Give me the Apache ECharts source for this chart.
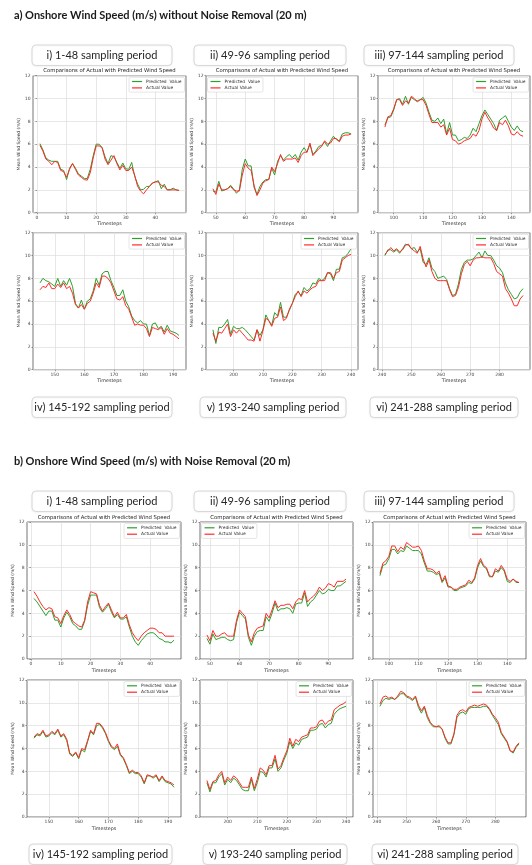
<!DOCTYPE html>
<html>
<head>
<meta charset="utf-8">
<script src="https://cdn.jsdelivr.net/npm/echarts@6/dist/echarts.min.js"></script>
<style>
  html, body { margin: 0; padding: 0; background: #ffffff; }
  #chart { width: 532px; height: 865px; }
</style>
</head>
<body>
<div id="chart"></div>
<script>
// Series names shown in every legend
const seriesNames = ['Predicted  Value', 'Actual Value'];

// First timestep of each 48-step sampling period
const periodStarts = [1, 49, 97, 145, 193, 241];
const periodLabels = [
  'i) 1-48 sampling period', 'ii) 49-96 sampling period', 'iii) 97-144 sampling period',
  'iv) 145-192 sampling period', 'v) 193-240 sampling period', 'vi) 241-288 sampling period'
];

// Tick labels
const xTicks = [
  [0, 10, 20, 30, 40], [50, 60, 70, 80, 90], [100, 110, 120, 130, 140],
  [150, 160, 170, 180, 190], [200, 210, 220, 230, 240], [240, 250, 260, 270, 280]
];
const yTicks = [0, 2, 4, 6, 8, 10, 12];

const sectionTitles = [
  'a) Onshore Wind Speed (m/s) without Noise Removal (20 m)',
  'b) Onshore Wind Speed (m/s) with Noise Removal (20 m)'
];

// a) without noise removal (m/s)
const a1Predicted = [6.05,5.5,4.8,4.6,4.5,4.5,4.5,3.8,3.7,2.9,3.9,4.3,3.9,3.4,3.2,3.0,3.0,3.8,5.0,6.0,6.0,5.7,4.9,4.3,5.0,4.9,4.4,3.9,4.35,3.85,3.8,4.4,3.2,2.5,2.0,2.05,2.3,2.3,2.6,2.7,2.8,2.1,2.5,2.0,2.0,2.15,2.0,1.95];
const a1Actual    = [5.9,5.4,4.7,4.5,4.2,4.5,4.4,3.7,3.6,3.1,3.8,4.3,3.8,3.3,3.1,2.9,2.85,3.5,4.8,5.85,5.85,5.7,4.7,4.2,4.6,5.0,4.3,3.75,4.15,3.7,3.7,4.0,3.3,2.3,1.9,1.65,2.0,2.3,2.6,2.7,2.7,2.4,2.3,2.0,2.0,2.0,2.0,1.95];
const a2Predicted = [1.9,1.8,2.75,1.9,2.0,2.1,2.4,2.1,1.7,2.0,3.8,4.7,4.1,4.1,2.2,1.6,2.3,2.7,2.9,2.9,3.9,3.3,4.5,5.0,4.6,4.9,5.1,4.8,5.1,4.6,5.3,5.7,5.3,6.0,5.1,5.4,5.8,5.9,6.2,5.8,6.3,6.7,6.4,6.3,6.9,7.0,7.0,6.9];
const a2Actual    = [2.1,1.6,2.5,2.0,2.0,2.1,2.3,2.0,1.9,1.9,3.3,4.3,3.9,3.7,2.4,1.5,2.0,2.6,2.8,2.9,4.0,3.6,4.3,5.1,4.5,4.7,4.7,4.7,4.8,4.4,5.0,5.3,5.3,6.1,5.0,5.3,5.6,5.8,6.3,6.0,6.1,6.5,6.5,6.2,6.7,6.8,6.8,6.9];
const a3Predicted = [7.7,8.3,8.4,9.0,9.9,10.0,9.5,10.2,9.5,10.1,9.9,9.8,9.9,10.1,9.6,8.8,8.1,8.0,8.3,7.8,8.2,6.9,7.9,6.8,6.8,6.3,6.4,6.6,6.5,6.8,7.4,7.1,7.8,8.5,9.0,8.6,8.2,7.8,7.2,8.1,8.3,8.5,8.0,7.5,7.2,7.6,7.2,7.1];
const a3Actual    = [7.5,8.4,8.5,9.1,9.9,9.9,9.4,9.8,9.6,10.2,10.0,9.7,9.9,9.9,9.4,8.6,7.9,7.9,7.9,7.5,7.7,6.8,7.4,6.4,6.3,6.0,6.1,6.3,6.4,6.5,6.9,6.7,7.2,8.2,8.8,8.3,7.9,7.4,7.2,7.9,7.7,8.1,7.6,6.9,6.8,7.1,6.8,6.7];
const a4Predicted = [7.6,8.0,7.8,7.7,7.5,7.3,8.0,7.3,7.8,7.4,8.0,7.3,5.8,5.4,6.1,5.3,6.0,6.2,6.9,8.0,7.4,8.4,8.6,8.6,7.8,7.2,6.5,6.5,7.0,6.0,5.5,4.7,4.3,4.1,4.3,4.0,4.0,3.0,4.0,4.1,3.6,3.8,3.3,3.9,3.4,3.3,3.2,3.0];
const a4Actual    = [7.0,7.3,7.2,7.6,7.1,7.1,7.5,7.2,7.6,7.1,7.3,6.7,5.7,5.4,5.7,5.3,5.8,6.0,6.7,7.6,7.2,8.2,8.2,8.0,7.6,6.9,6.2,6.1,6.4,5.6,5.3,4.6,3.9,4.0,3.9,3.9,3.6,2.9,3.7,3.6,3.5,3.7,3.1,3.6,3.2,3.1,2.9,2.7];
const a5Predicted = [3.5,2.3,3.7,3.7,4.0,4.4,3.1,3.8,3.6,3.6,3.7,3.5,3.2,2.9,2.6,3.5,3.0,3.5,4.8,4.3,3.9,5.0,4.7,5.9,4.6,4.6,5.2,5.8,6.6,6.8,6.5,7.2,6.9,7.1,7.6,7.5,8.0,7.8,8.0,8.5,8.4,7.8,8.8,8.8,9.8,9.9,10.2,10.6];
const a5Actual    = [3.2,2.5,3.3,3.2,3.6,4.0,2.9,3.5,3.2,3.5,3.2,2.9,2.6,2.6,2.5,3.5,2.5,3.4,4.5,4.3,3.8,4.5,4.6,5.5,4.3,4.5,5.3,5.8,6.4,6.9,6.4,6.9,6.7,7.0,7.2,7.3,7.8,7.8,7.8,8.5,8.5,8.0,8.5,8.6,9.6,9.8,10.0,10.1];
const a6Predicted = [10.0,10.5,10.5,10.3,10.5,10.2,10.6,11.0,10.9,10.6,10.7,10.3,10.6,9.4,9.2,9.8,8.9,8.6,8.0,8.1,8.2,7.9,7.1,6.5,6.6,7.5,8.8,9.4,9.6,9.6,9.7,10.0,10.3,9.8,10.4,10.0,10.0,9.6,9.1,8.9,8.5,7.6,7.0,6.6,6.2,6.3,6.8,7.1];
const a6Actual    = [10.1,10.4,10.7,10.4,10.6,10.3,10.5,10.9,11.0,10.6,10.4,10.2,10.8,9.7,9.0,9.6,8.6,8.0,7.8,7.8,7.8,7.8,7.0,6.4,6.5,7.2,8.4,9.2,9.5,9.1,9.6,9.8,9.8,9.9,9.8,9.8,9.8,9.3,8.6,8.4,8.2,7.1,6.7,6.2,5.6,5.6,6.2,6.5];

// b) with noise removal (m/s)
const b1Predicted = [5.3,5.0,4.6,4.2,3.8,4.2,4.2,3.4,3.4,2.8,3.6,4.1,3.7,3.1,2.9,2.6,2.6,3.3,4.7,5.6,5.6,5.6,4.5,4.1,4.4,4.8,4.1,3.6,3.9,3.5,3.5,3.7,2.8,2.0,1.5,1.2,1.6,1.9,2.2,2.3,2.3,2.1,1.8,1.7,1.5,1.5,1.4,1.65];
const b1Actual    = [5.9,5.5,5.0,4.6,4.3,4.5,4.4,3.7,3.6,3.1,3.8,4.3,3.9,3.3,3.1,2.9,2.8,3.4,5.0,5.9,5.8,5.7,4.7,4.2,4.6,4.9,4.3,3.7,4.1,3.6,3.6,3.9,3.0,2.3,1.9,1.6,2.0,2.3,2.5,2.7,2.7,2.6,2.3,2.3,2.0,2.0,2.0,2.0];
const b2Predicted = [1.8,1.3,2.2,1.7,1.8,1.9,1.9,1.7,1.6,1.7,3.2,4.1,3.8,3.5,1.9,1.2,2.0,2.4,2.5,2.5,3.7,3.3,4.0,4.9,4.2,4.4,4.4,4.5,4.4,4.0,4.8,4.9,4.9,5.8,4.6,5.0,5.2,5.6,6.0,5.7,5.8,6.1,6.0,6.0,6.4,6.4,6.6,6.8];
const b2Actual    = [2.1,1.6,2.5,2.0,2.0,2.2,2.3,2.0,2.0,2.0,3.4,4.3,4.0,3.7,2.1,1.5,2.3,2.7,2.8,2.9,4.0,3.6,4.3,5.1,4.5,4.7,4.7,4.8,4.8,4.4,5.0,5.3,5.2,6.0,5.0,5.3,5.5,5.8,6.3,6.0,6.2,6.6,6.5,6.3,6.8,6.8,6.8,7.0];
const b3Predicted = [7.3,8.2,8.3,8.8,9.6,9.6,9.2,9.5,9.4,9.9,9.7,9.5,9.5,9.5,9.2,8.4,7.7,7.7,7.6,7.4,7.5,6.7,7.1,6.3,6.3,6.0,6.0,6.2,6.3,6.4,6.7,6.6,7.0,8.0,8.6,8.1,7.9,7.2,7.2,7.7,7.6,8.0,7.7,6.8,6.7,7.0,6.7,6.7];
const b3Actual    = [7.5,8.4,8.6,9.0,9.9,9.9,9.4,9.8,9.6,10.2,10.0,9.8,9.8,9.9,9.5,8.6,7.9,7.9,7.8,7.5,7.7,6.8,7.3,6.4,6.3,6.1,6.1,6.3,6.4,6.5,6.9,6.7,7.1,8.2,8.8,8.2,8.0,7.3,7.2,7.9,7.7,8.2,7.8,7.0,6.8,7.0,6.8,6.7];
const b4Predicted = [6.9,7.2,7.1,7.5,7.0,7.1,7.4,7.2,7.6,7.0,7.2,6.7,5.5,5.3,5.6,5.1,5.9,5.7,6.6,7.5,7.2,8.0,8.1,7.8,7.3,6.6,6.1,5.9,6.2,5.4,5.1,4.5,3.8,4.0,3.8,3.8,3.5,2.9,3.6,3.6,3.4,3.6,3.1,3.5,3.1,3.0,2.9,2.6];
const b4Actual    = [7.0,7.3,7.2,7.6,7.1,7.2,7.5,7.3,7.7,7.1,7.3,6.8,5.6,5.4,5.7,5.2,6.0,5.9,6.7,7.6,7.3,8.2,8.2,7.9,7.4,6.7,6.2,6.0,6.4,5.5,5.2,4.6,3.9,4.1,3.9,3.9,3.6,3.0,3.7,3.6,3.5,3.7,3.2,3.6,3.2,3.1,3.0,2.8];
const b5Predicted = [3.0,2.2,3.0,3.0,3.5,3.8,2.8,3.3,3.0,3.4,3.2,2.8,2.4,2.3,2.3,3.3,2.3,3.0,4.0,3.9,3.5,4.3,4.3,5.1,4.0,4.3,5.0,5.6,6.6,6.0,6.5,6.3,6.8,6.9,7.0,7.6,7.6,7.7,8.1,8.2,7.8,8.1,8.2,9.0,9.3,9.5,9.6,9.7];
const b5Actual    = [3.2,2.4,3.1,3.2,3.7,4.0,3.0,3.5,3.2,3.6,3.4,3.0,2.6,2.6,2.6,3.5,2.5,3.3,4.3,4.1,3.7,4.5,4.5,5.4,4.2,4.5,5.2,5.8,6.9,6.2,6.8,6.6,7.0,7.1,7.2,7.8,7.8,7.9,8.4,8.5,8.1,8.4,8.5,9.4,9.6,9.8,9.9,10.1];
const b6Predicted = [9.7,10.2,10.4,10.3,10.4,10.3,10.5,10.8,10.8,10.5,10.4,10.2,10.5,9.6,9.1,9.6,8.7,8.2,7.9,7.9,7.9,7.7,6.9,6.4,6.4,7.2,8.7,9.1,9.2,9.0,9.5,9.6,9.6,9.6,9.6,9.7,9.7,9.4,8.9,8.5,8.1,7.3,6.9,6.5,5.8,5.6,6.1,6.4];
const b6Actual    = [9.9,10.5,10.6,10.4,10.5,10.3,10.6,11.0,10.9,10.6,10.5,10.3,10.6,9.8,9.3,9.7,8.9,8.3,8.0,7.9,8.0,7.7,7.0,6.5,6.5,7.3,8.9,9.3,9.4,9.2,9.6,9.7,9.8,9.7,9.8,9.9,9.8,9.5,9.0,8.7,8.3,7.4,7.0,6.6,5.8,5.7,6.2,6.5];

// ---------------------------------------------------------------------------
// Layout of the two sections (pixels)
const layout = [
  {
    titleY: 15,
    predicted: [a1Predicted, a2Predicted, a3Predicted, a4Predicted, a5Predicted, a6Predicted],
    actual:    [a1Actual, a2Actual, a3Actual, a4Actual, a5Actual, a6Actual],
    lefts: [33, 206, 378], rights: [186, 358, 530],
    rowTops: [75.7, 232.7], plotH: 137,
    boxes: [
      { y: 45,  xs: [[32, 172], [194, 346], [364, 514]] },
      { y: 397, xs: [[32, 172], [200, 346], [370, 518]] }
    ]
  },
  {
    titleY: 461,
    predicted: [b1Predicted, b2Predicted, b3Predicted, b4Predicted, b5Predicted, b6Predicted],
    actual:    [b1Actual, b2Actual, b3Actual, b4Actual, b5Actual, b6Actual],
    lefts: [27, 200, 373], rights: [181, 353, 526],
    rowTops: [522, 680], plotH: 137,
    boxes: [
      { y: 491, xs: [[32, 172], [194, 346], [364, 514]] },
      { y: 844, xs: [[29, 172], [203, 347], [372, 518]] }
    ]
  }
];

const GREEN = '#2ca02c';
const RED = '#ff2a2a';
const MPL_FONT = 'DejaVu Sans';
const DOC_FONT = 'Lato';

const grids = [], xAxes = [], yAxes = [], series = [], legends = [], graphics = [];

layout.forEach((sec, s) => {
  graphics.push({
    type: 'text', x: 14, y: sec.titleY,
    style: { text: sectionTitles[s], font: 'bold 11px ' + DOC_FONT, fill: '#1a1a1a',
             textAlign: 'left', textVerticalAlign: 'middle' }
  });

  for (let k = 0; k < 6; k++) {
    const row = Math.floor(k / 3), col = k % 3;
    const g = grids.length;
    const left = sec.lefts[col], right = sec.rights[col];
    const top = sec.rowTops[row];
    const start = periodStarts[k];
    const xMin = start - 2.35, xMax = start + 47 + 2.35;

    grids.push({ left: left, top: top, width: right - left, height: sec.plotH,
                 show: true, borderColor: '#3a3a3a', borderWidth: 0.7, backgroundColor: '#fff' });

    xAxes.push({
      type: 'value', gridIndex: g, min: xMin, max: xMax,
      name: 'Timesteps', nameLocation: 'middle', nameGap: 9,
      nameTextStyle: { fontSize: 4.8, fontFamily: MPL_FONT, color: '#333' },
      axisLine: { show: false },
      axisTick: { show: true, customValues: xTicks[k], length: 1.6, lineStyle: { color: '#444', width: 0.5 } },
      axisLabel: { customValues: xTicks[k], fontSize: 4.5, fontFamily: MPL_FONT, color: '#444', margin: 2.5 },
      splitLine: { show: true, lineStyle: { color: '#dcdcdc', width: 0.7 } }
    });

    yAxes.push({
      type: 'value', gridIndex: g, min: yTicks[0], max: yTicks[yTicks.length - 1], interval: 2,
      name: 'Mean Wind Speed (m/s)', nameLocation: 'middle', nameGap: 11, nameRotate: 90,
      nameTextStyle: { fontSize: 4.4, fontFamily: MPL_FONT, color: '#333' },
      axisLine: { show: false },
      axisTick: { show: true, length: 1.6, lineStyle: { color: '#444', width: 0.5 } },
      axisLabel: { fontSize: 4.5, fontFamily: MPL_FONT, color: '#444', margin: 2.5 },
      splitLine: { show: true, lineStyle: { color: '#dcdcdc', width: 0.7 } }
    });

    const pred = sec.predicted[k].map((v, i) => [start + i, v]);
    const act = sec.actual[k].map((v, i) => [start + i, v]);
    series.push({
      name: seriesNames[0], type: 'line', xAxisIndex: g, yAxisIndex: g, data: pred,
      showSymbol: false, symbol: 'none', animation: false,
      lineStyle: { color: GREEN, width: 1 }, itemStyle: { color: GREEN }
    });
    series.push({
      name: seriesNames[1], type: 'line', xAxisIndex: g, yAxisIndex: g, data: act,
      showSymbol: false, symbol: 'none', animation: false,
      lineStyle: { color: RED, width: 1 }, itemStyle: { color: RED }
    });

    // Legend: upper-left for the second panel of the top row, upper-right elsewhere
    const lg = {
      orient: 'vertical', top: top + 1.6, data: seriesNames, selectedMode: false,
      icon: 'rect', itemWidth: 10, itemHeight: 1.2, itemGap: 2.4,
      padding: [2.2, 3, 2.2, 3],
      backgroundColor: 'rgba(255,255,255,0.9)', borderColor: '#d4d4d4', borderWidth: 0.6, borderRadius: 1.5,
      textStyle: { fontSize: 4.4, fontFamily: MPL_FONT, color: '#333', padding: [0, 0, 0, -1] }
    };
    if (k === 1) lg.left = left + 1.5; else lg.right = 532 - right + 1.5;
    legends.push(lg);

    // Chart title above the top row of each section
    if (row === 0) {
      graphics.push({
        type: 'text', x: (left + right) / 2, y: top - 4.6,
        style: { text: 'Comparisons of Actual with Predicted Wind Speed', font: '5.3px ' + MPL_FONT,
                 fill: '#222', textAlign: 'center', textVerticalAlign: 'middle' }
      });
    }
  }

  // Sampling-period caption boxes
  sec.boxes.forEach((b, r) => {
    b.xs.forEach((xr, c) => {
      const w = xr[1] - xr[0];
      graphics.push({
        type: 'rect', shape: { x: xr[0], y: b.y, width: w, height: 20.5, r: 4 },
        style: { fill: '#ffffff', stroke: '#d6d6d6', lineWidth: 0.9,
                 shadowBlur: 2, shadowColor: 'rgba(0,0,0,0.07)', shadowOffsetY: 0.5 }
      });
      graphics.push({
        type: 'text', x: xr[0] + w / 2, y: b.y + 10.5,
        style: { text: periodLabels[r * 3 + c], font: '11px ' + DOC_FONT, fill: '#262626',
                 textAlign: 'center', textVerticalAlign: 'middle' }
      });
    });
  });
});

const chart = echarts.init(document.getElementById('chart'), null, { renderer: 'canvas' });
chart.setOption({
  animation: false,
  backgroundColor: '#ffffff',
  grid: grids,
  xAxis: xAxes,
  yAxis: yAxes,
  legend: legends,
  series: series,
  graphic: graphics
});
</script>
</body>
</html>
